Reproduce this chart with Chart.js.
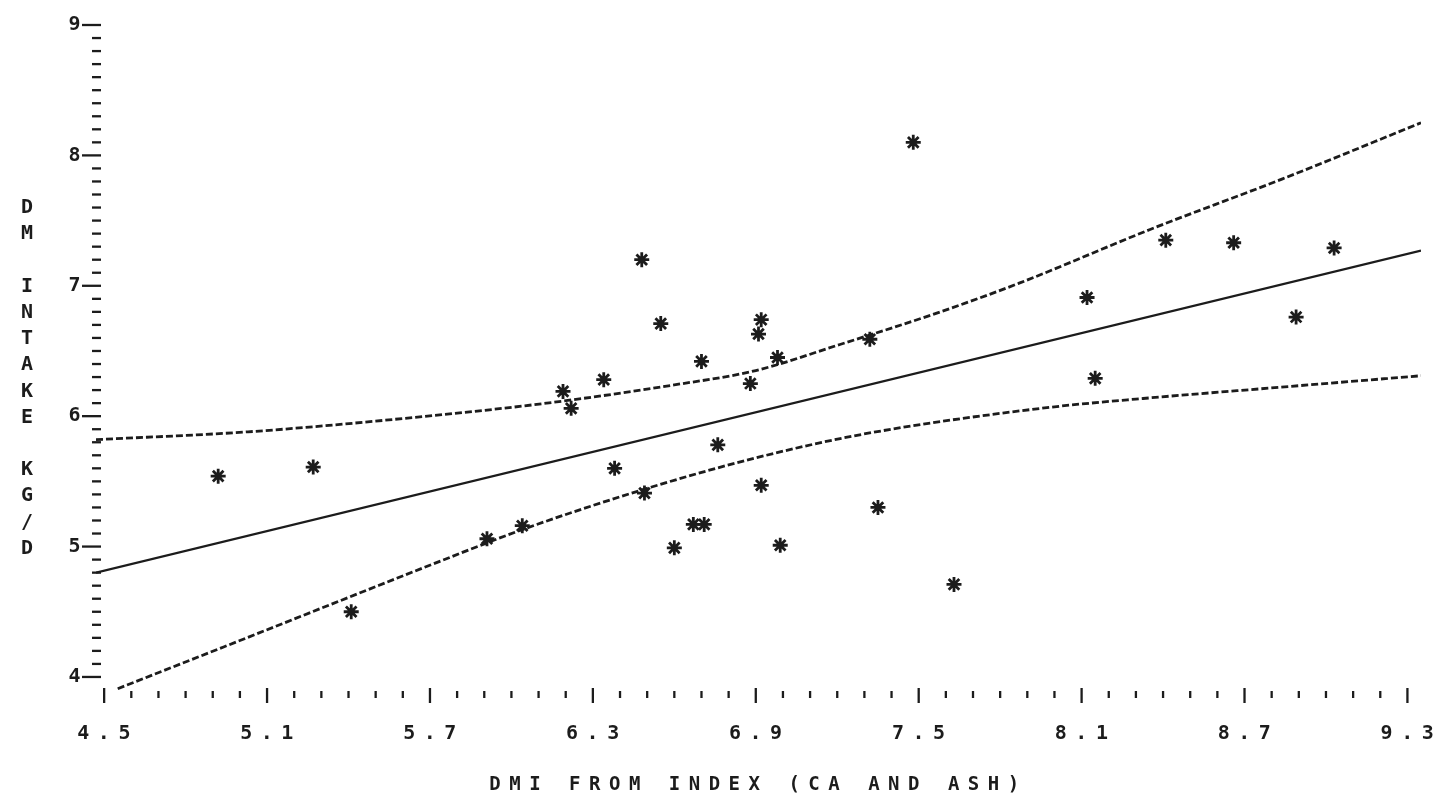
<!DOCTYPE html>
<html>
<head>
<meta charset="utf-8">
<script src="https://cdn.jsdelivr.net/npm/chart.js@4.4.1/dist/chart.umd.min.js"></script>
<style>
  html, body { margin: 0; padding: 0; background: #fff; }
  #wrap { width: 1440px; height: 807px; position: relative; }
</style>
</head>
<body>
<div id="wrap"><canvas id="dmiChart" width="1440" height="807"></canvas></div>
<script>
// observed points
const dmiIndex = [4.92, 5.27, 5.41, 5.91, 6.04, 6.19, 6.22, 6.34, 6.38, 6.48, 6.55, 6.49, 6.70, 6.60, 6.67, 6.71, 6.76,
  6.88, 6.92, 6.91, 6.98, 6.92, 6.99, 7.32, 7.35, 7.48, 7.63, 8.12, 8.15, 8.41, 8.66, 8.89, 9.03];
const dmIntake = [5.54, 5.61, 4.50, 5.06, 5.16, 6.19, 6.06, 6.28, 5.60, 7.20, 6.71, 5.41, 6.42, 4.99, 5.17, 5.17, 5.78,
  6.25, 6.74, 6.63, 6.45, 5.47, 5.01, 6.59, 5.30, 8.10, 4.71, 6.91, 6.29, 7.35, 7.33, 6.76, 7.29];

// fitted line
const fitX = [4.47, 9.35];
const fitY = [4.80, 7.27];

// confidence limits
const upperX = [4.47, 5.03, 5.64, 6.13, 6.60, 6.90, 7.21, 7.58, 7.87, 8.35, 8.84, 9.35];
const upperY = [5.82, 5.88, 5.99, 6.10, 6.24, 6.35, 6.55, 6.80, 7.02, 7.43, 7.82, 8.25];
const lowerX = [4.55, 4.94, 5.40, 5.74, 6.04, 6.49, 6.90, 7.29, 7.95, 8.35, 8.76, 9.35];
const lowerY = [3.91, 4.23, 4.61, 4.89, 5.13, 5.44, 5.68, 5.86, 6.06, 6.14, 6.21, 6.31];

// axis labels
const xTickLabels = ['4.5', '5.1', '5.7', '6.3', '6.9', '7.5', '8.1', '8.7', '9.3'];
const yTickLabels = ['4', '5', '6', '7', '8', '9'];

const ink = '#1c1c1c';
const monoFont = '"DejaVu Sans Mono", monospace';

const pairs = (xs, ys) => xs.map((x, i) => ({ x: x, y: ys[i] }));

// minor tick positions every 0.1
function tenths(from, to) {
  const out = [];
  for (let k = Math.round(from * 10); k <= Math.round(to * 10); k++) out.push(k / 10);
  return out;
}
const findLabel = (labels, v) => labels.find(l => Math.abs(parseFloat(l) - v) < 1e-6);

const bandStyle = {
  type: 'line', showLine: true, borderColor: ink, borderWidth: 2.8, borderDash: [7, 3],
  pointRadius: 0, fill: false, cubicInterpolationMode: 'monotone'
};

// plotter-like tick marks and the stacked y title, drawn from the scales
const tickMarks = {
  id: 'tickMarks',
  beforeDraw(chart) {
    chart.ctx.letterSpacing = '8.5px';
  },
  afterDraw(chart) {
    const { ctx, scales: { x, y }, chartArea } = chart;
    ctx.save();
    ctx.letterSpacing = '0px';
    ctx.strokeStyle = ink;
    ctx.lineWidth = 2.3;
    x.ticks.forEach(t => {
      const px = x.getPixelForValue(t.value);
      const major = !!findLabel(xTickLabels, t.value);
      ctx.beginPath();
      ctx.moveTo(px, chartArea.bottom + (major ? -2 : 1));
      ctx.lineTo(px, chartArea.bottom + (major ? 13 : 8));
      ctx.stroke();
    });
    y.ticks.forEach(t => {
      const py = y.getPixelForValue(t.value);
      const major = !!findLabel(yTickLabels, t.value);
      ctx.beginPath();
      ctx.moveTo(chartArea.left - (major ? 14 : 4), py);
      ctx.lineTo(chartArea.left + 5, py);
      ctx.stroke();
    });
    const title = 'DM INTAKE KG/D';
    ctx.fillStyle = ink;
    ctx.font = 'bold 20px ' + monoFont;
    ctx.textAlign = 'center';
    ctx.textBaseline = 'middle';
    for (let i = 0; i < title.length; i++) {
      ctx.fillText(title[i], 27, chartArea.top + 183 + i * 26.2);
    }
    ctx.restore();
  }
};

new Chart(document.getElementById('dmiChart'), {
  type: 'scatter',
  data: {
    datasets: [
      {
        label: 'DM intake',
        data: pairs(dmiIndex, dmIntake),
        pointStyle: 'star',
        pointRadius: 7.5,
        pointBorderWidth: 2.8,
        borderColor: ink,
        backgroundColor: ink
      },
      Object.assign({ label: 'Upper', data: pairs(upperX, upperY) }, bandStyle),
      Object.assign({ label: 'Lower', data: pairs(lowerX, lowerY) }, bandStyle),
      {
        type: 'line', label: 'Fit', data: pairs(fitX, fitY), showLine: true,
        borderColor: ink, borderWidth: 2.4, pointRadius: 0, fill: false
      }
    ]
  },
  options: {
    responsive: false,
    animation: false,
    layout: { padding: { top: 25, right: 19, bottom: 0, left: 0 } },
    plugins: { legend: { display: false }, tooltip: { enabled: false } },
    scales: {
      x: {
        type: 'linear',
        min: 4.47,
        max: 9.35,
        afterBuildTicks: s => { s.ticks = tenths(4.5, 9.3).map(v => ({ value: v })); },
        afterFit: s => { s.height = 117; s.paddingLeft = 0; s.paddingRight = 0; },
        grid: { display: false, drawTicks: false },
        border: { display: false },
        ticks: {
          autoSkip: false, maxRotation: 0, padding: 32, labelOffset: 4, color: ink,
          font: { family: monoFont, size: 20, weight: 'bold' },
          callback: v => findLabel(xTickLabels, v) || ''
        },
        title: {
          display: true, text: 'DMI FROM INDEX (CA AND ASH)', color: ink,
          font: { family: monoFont, size: 19, weight: 'bold' }, padding: { top: 0, bottom: 11 }
        }
      },
      y: {
        type: 'linear',
        min: 3.9,
        max: 9.0,
        afterBuildTicks: s => { s.ticks = tenths(4.0, 9.0).map(v => ({ value: v })); },
        afterFit: s => { s.width = 96; s.paddingTop = 0; s.paddingBottom = 0; },
        grid: { display: false, drawTicks: false },
        border: { display: false },
        ticks: {
          autoSkip: false, padding: 7, color: ink,
          font: { family: monoFont, size: 20, weight: 'bold' },
          callback: v => findLabel(yTickLabels, v) || ''
        }
      }
    }
  },
  plugins: [tickMarks]
});
</script>
</body>
</html>
